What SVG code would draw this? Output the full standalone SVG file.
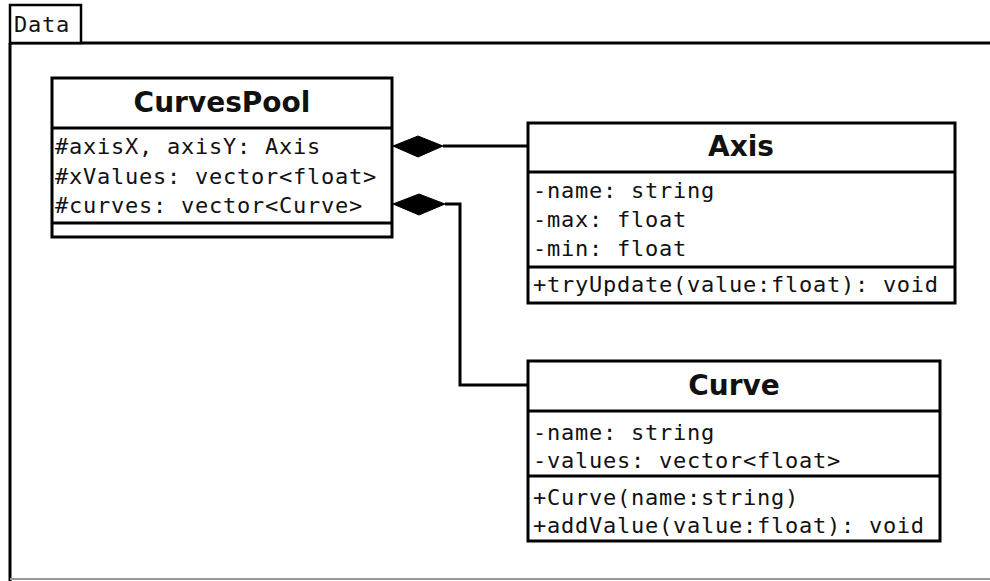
<svg xmlns="http://www.w3.org/2000/svg" width="990" height="581" viewBox="0 0 990 581">
  <style>
    .box { fill: #fff; stroke: #000; stroke-width: 3; }
    .sep { stroke: #000; stroke-width: 3; }
    .title { font-family: "DejaVu Sans", sans-serif; font-weight: bold; font-size: 28px; text-anchor: middle; fill: #111; }
    .member { font-family: "DejaVu Sans Mono", monospace; font-size: 22px; letter-spacing: 0.75px; fill: #111; }
    .link { fill: none; stroke: #000; stroke-width: 3; }
    .diamond { fill: #000; stroke: #000; stroke-width: 1; }
  </style>
  <rect width="990" height="581" fill="#fff"/>

  <!-- package frame "Data" -->
  <g id="package-data">
    <line x1="10" y1="43" x2="992" y2="43" class="sep"/>
    <line x1="10" y1="43" x2="10" y2="581" class="sep"/>
    <line x1="10" y1="579" x2="990" y2="579" stroke="#999" stroke-width="2"/>
    <rect x="10" y="5" width="71" height="38" fill="#fff" stroke="#000" stroke-width="2.5"/>
    <text x="14" y="32" class="member" font-size="21px" letter-spacing="0.5px">Data</text>
  </g>

  <!-- connectors -->
  <g id="connectors">
    <line x1="443" y1="146" x2="528" y2="146" class="link"/>
    <polygon points="393,146 418,136 443,146 418,157" class="diamond"/>
    <polyline points="445,204 460,204 460,385 528,385" class="link"/>
    <polygon points="393,204 419,194 445,204 419,215" class="diamond"/>
  </g>

  <!-- class CurvesPool -->
  <g id="CurvesPool">
    <rect x="52" y="78" width="340" height="159" class="box"/>
    <line x1="52" y1="128" x2="392" y2="128" class="sep"/>
    <line x1="52" y1="223" x2="392" y2="223" class="sep"/>
    <text x="222" y="112" class="title">CurvesPool</text>
    <text x="55" y="154" class="member">#axisX, axisY: Axis</text>
    <text x="55" y="184" class="member">#xValues: vector&lt;float&gt;</text>
    <text x="55" y="213" class="member">#curves: vector&lt;Curve&gt;</text>
  </g>

  <!-- class Axis -->
  <g id="Axis">
    <rect x="528" y="123" width="427" height="180" class="box"/>
    <line x1="528" y1="172" x2="955" y2="172" class="sep"/>
    <line x1="528" y1="267" x2="955" y2="267" class="sep"/>
    <text x="741" y="156" class="title">Axis</text>
    <text x="533" y="198" class="member">-name: string</text>
    <text x="533" y="227" class="member">-max: float</text>
    <text x="533" y="256" class="member">-min: float</text>
    <text x="533" y="292" class="member">+tryUpdate(value:float): void</text>
  </g>

  <!-- class Curve -->
  <g id="Curve">
    <rect x="528" y="361" width="412" height="180" class="box"/>
    <line x1="528" y1="411" x2="940" y2="411" class="sep"/>
    <line x1="528" y1="476" x2="940" y2="476" class="sep"/>
    <text x="734" y="395" class="title">Curve</text>
    <text x="533" y="440" class="member">-name: string</text>
    <text x="533" y="468" class="member">-values: vector&lt;float&gt;</text>
    <text x="533" y="505" class="member">+Curve(name:string)</text>
    <text x="533" y="533" class="member">+addValue(value:float): void</text>
  </g>
</svg>
